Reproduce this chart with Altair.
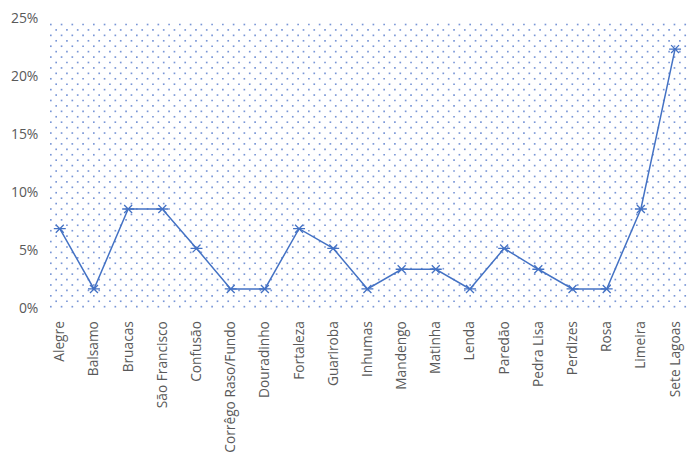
import altair as alt
import pandas as pd

categories = [
    "Alegre", "Balsamo", "Bruacas", "São Francisco", "Confusão",
    "Corrêgo Raso/Fundo", "Douradinho", "Fortaleza", "Guariroba", "Inhumas",
    "Mandengo", "Matinha", "Lenda", "Paredão", "Pedra Lisa", "Perdizes",
    "Rosa", "Limeira", "Sete Lagoas",
]
values_pct = [6.9, 1.7, 8.6, 8.6, 5.2, 1.7, 1.7, 6.9, 5.2, 1.7,
              3.4, 3.4, 1.7, 5.2, 3.4, 1.7, 1.7, 8.6, 22.4]
y_ticks = [0, 0.05, 0.10, 0.15, 0.20, 0.25]

df = pd.DataFrame({"local": categories, "share": [v / 100 for v in values_pct]})

W, H = 642, 291
DX, DY = 10.8, 5.45
ncols = int(W // DX) + 1
nrows = int(H // DY) + 1

LINE = "#4472C4"
TXT = "#595959"
FONT = "Open Sans"

# decorative dotted plot-area fill (staggered dot texture)
dots = (
    alt.Chart(alt.sequence(0, ncols * nrows, as_="k"))
    .transform_calculate(row=f"floor(datum.k / {ncols})", col=f"datum.k % {ncols}")
    .transform_calculate(
        px=f"datum.col * {DX} + (datum.row % 2) * {DX / 2} + 3",
        py=f"datum.row * {DY} + 2",
    )
    .transform_filter(f"datum.px <= {W - 1} && datum.py <= {H - 1}")
    .mark_square(size=2.8, color="#6a8bd2", opacity=0.9)
    .encode(
        x=alt.X("px:Q", scale=alt.Scale(domain=[0, W], nice=False, zero=False), axis=None),
        y=alt.Y("py:Q", scale=alt.Scale(domain=[0, H], nice=False, zero=False), axis=None),
    )
)

base = alt.Chart(df).encode(
    x=alt.X(
        "local:N",
        sort=categories,
        scale=alt.Scale(type="point", padding=0.35),
        axis=alt.Axis(
            title=None, orient="bottom", labelAngle=-90, ticks=False, domain=False,
            grid=False, labelPadding=12, labelFont=FONT, labelFontSize=13.8,
            labelColor=TXT, labelLimit=200,
        ),
    ),
    y=alt.Y(
        "share:Q",
        scale=alt.Scale(domain=[0, 0.25], nice=False),
        axis=alt.Axis(
            title=None, orient="left", values=y_ticks, format=".0%", ticks=False,
            domain=False, grid=False, labelPadding=10, labelFont=FONT,
            labelFontSize=14, labelColor=TXT,
        ),
    ),
)

line = base.mark_line(color=LINE, strokeWidth=1.5)
pts = base.mark_point(
    shape="M-0.8,-0.8L0.8,0.8M-0.8,0.8L0.8,-0.8M-1.2,0L1.2,0",
    size=100, filled=False, stroke=LINE, strokeWidth=1.3, opacity=1,
)

chart = (
    alt.layer(dots, alt.layer(line, pts))
    .resolve_scale(x="independent", y="independent")
    .properties(
        width=W, height=H,
        padding={"left": 40, "top": 10, "right": 5, "bottom": 152},
        autosize=alt.AutoSizeParams(type="none"),
    )
    .configure_view(stroke=None)
)

chart.save("out.html", embed_options={"renderer": "svg", "actions": False})
